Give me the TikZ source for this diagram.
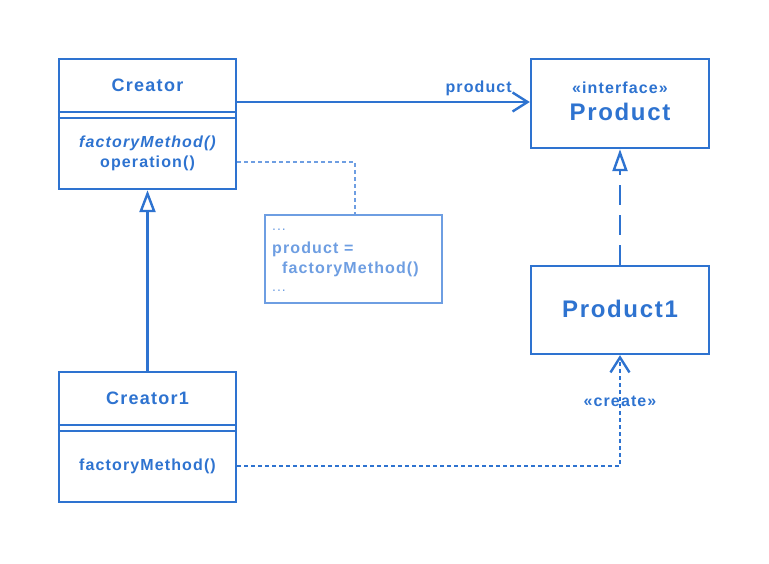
\documentclass[tikz,border=0pt]{standalone}
\usepackage{fontspec}
\setmainfont{Liberation Sans}[LetterSpace=7]
\usetikzlibrary{arrows.meta}
\definecolor{umlblue}{RGB}{46,115,208}
\definecolor{noteblue}{RGB}{110,158,226}
\begin{document}
\begin{tikzpicture}[x=1pt,y=-1pt,line join=miter,
  box/.style={draw=umlblue,line width=2.4pt,fill=white,rectangle,inner sep=0pt},
  notebox/.style={draw=noteblue,line width=2.4pt,fill=white,rectangle,inner sep=0pt},
  txt/.style={text=umlblue,font=\bfseries\fontsize{16}{19}\selectfont,inner sep=0pt},
  bigtxt/.style={text=umlblue,font=\bfseries\fontsize{18}{21}\selectfont,inner sep=0pt},
  hugetxt/.style={text=umlblue,font=\bfseries\fontsize{24}{28}\selectfont,inner sep=0pt},
  notetxt/.style={text=noteblue,font=\bfseries\fontsize{16}{19}\selectfont,inner sep=0pt,anchor=west},
  dotstxt/.style={text=noteblue,font=\fontsize{14}{17}\selectfont,inner sep=0pt,anchor=west},
  divider/.style={draw=umlblue,line width=1.6pt},
  conn/.style={draw=umlblue,line width=2.4pt},
  inherit/.style={conn,-{Triangle[length=22pt,width=16pt,fill=white,line width=2.4pt]}},
  realize/.style={conn,dash pattern=on 20pt off 10pt,-{Triangle[length=22pt,width=15pt,fill=white,line width=2.4pt]}},
  assoc/.style={conn,-{Straight Barb[length=15pt,width=19pt,line width=2.4pt]}},
  depend/.style={conn,dash pattern=on 4pt off 3pt,-{Straight Barb[length=15pt,width=19pt,line width=2.4pt]}},
  notelink/.style={draw=noteblue,line width=2.4pt,dash pattern=on 4pt off 3pt}]
\path[use as bounding box] (0,0) rectangle (769,563);

% boxes
\node[box,minimum width=177pt,minimum height=130pt] (creator) at (147.5,124) {};
\node[box,minimum width=178pt,minimum height=89pt] (product) at (620,103.5) {};
\node[box,minimum width=177pt,minimum height=130pt] (creator1) at (147.5,437) {};
\node[box,minimum width=178pt,minimum height=88pt] (product1) at (620,310) {};

% dividers
\draw[divider] (creator.west |- 0,112) -- (creator.east |- 0,112);
\draw[divider] (creator.west |- 0,118) -- (creator.east |- 0,118);
\draw[divider] (creator1.west |- 0,425) -- (creator1.east |- 0,425);
\draw[divider] (creator1.west |- 0,431) -- (creator1.east |- 0,431);

% texts
\node[bigtxt] (creatorname) at (147.5,85) {Creator};
\node[txt,font=\bfseries\itshape\fontsize{16}{19}\selectfont] (fm) at (147.5,143) {factoryMethod()};
\node[txt] (op) at (147.5,163) {operation()};
\node[txt] (stereo) at (620,88) {«interface»};
\node[hugetxt] (productname) at (620,112) {Product};
\node[hugetxt] (product1name) at (620,309) {Product1};
\node[bigtxt] (creator1name) at (147.5,398) {Creator1};
\node[txt] (fm1) at (147.5,466) {factoryMethod()};

% note
\node[notebox,minimum width=177pt,minimum height=88pt] (note) at (353.5,259) {};
\node[dotstxt] (n1) at (272,230) {...};
\node[notetxt] (n2) at (272,249) {product =};
\node[notetxt] (n3) at (282,269) {factoryMethod()};
\node[dotstxt] (n4) at (272,291) {...};
\coordinate (nc) at (355,162);
\draw[notelink] (creator.east |- nc) -- (nc) -- (note.north -| nc);

% connectors
\draw[inherit] (creator1.north) -- (creator.south);
\draw[realize] (product1.north) -- (product.south);
\draw[assoc] (creator.east |- 0,102) -- (product.west |- 0,102);
\node[txt,anchor=east] (assoclabel) at (512,88) {product};
\coordinate (dc) at (620,466);
\draw[depend] (creator1.east |- dc) -- (dc) -- (product1.south);
\node[txt] (createlabel) at (620,401) {«create»};
\end{tikzpicture}
\end{document}
